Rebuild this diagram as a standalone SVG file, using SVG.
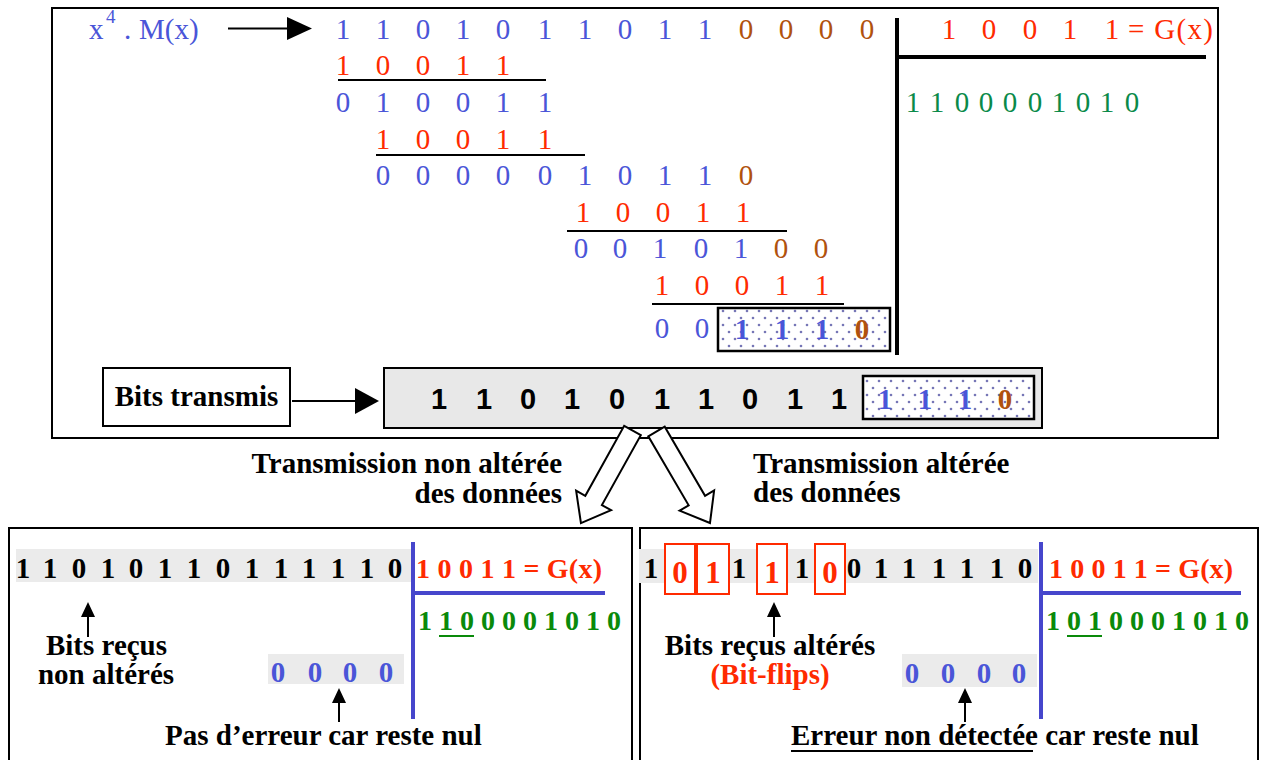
<svg xmlns="http://www.w3.org/2000/svg" width="1262" height="760" viewBox="0 0 1262 760">
<style>
.s{font-family:"Liberation Serif","Times New Roman",serif}
.d{font-family:"Liberation Serif","Times New Roman",serif;font-size:29px;text-anchor:middle}
.bd{font-family:"Liberation Serif","Times New Roman",serif;font-weight:bold}
.ar{font-family:"Liberation Sans",Arial,sans-serif;font-weight:bold;font-size:29px;text-anchor:middle}
.blu{fill:#4a55d8}
.red{fill:#ff2a00}
.brn{fill:#b0520e}
.grn{fill:#0a8a4a}
.g2{fill:#0a8a0a}
.blk{fill:#000}
.ln{stroke:#000;stroke-width:2;fill:none}
.thick{stroke:#000;stroke-width:4;fill:none}
.bl{stroke:#4646cc;stroke-width:4;fill:none}
.band{fill:#ebebeb}
.lbl{font-family:"Liberation Serif","Times New Roman",serif;font-weight:bold;font-size:29px}
.flip{fill:#fff;stroke:#ff2a00;stroke-width:2}
.fd{font-family:"Liberation Serif","Times New Roman",serif;font-weight:bold;font-size:31px;text-anchor:middle;fill:#ff2a00}
</style>
<defs>
<pattern id="dots" width="12" height="14" patternUnits="userSpaceOnUse">
<rect width="12" height="14" fill="#fff"/>
<circle cx="3" cy="3" r="1.3" fill="#7676b6"/>
<circle cx="9" cy="10" r="1.3" fill="#7676b6"/>
</pattern>
</defs>

<g id="division">
<rect x="52" y="8" width="1166" height="430" fill="#fff" stroke="#000" stroke-width="2"/>
<text class="s blu" x="89" y="39" font-size="29">x<tspan x="106" y="23" font-size="19">4</tspan><tspan x="124" y="39">.</tspan><tspan x="139" y="39">M(x)</tspan></text>
<text class="d blu" y="39" x="343 383 423 463 503 545 585 625 665 705">1101011011</text>
<text class="d brn" y="39" x="746 786 826 867">0000</text>
<text class="d red" y="75" x="343 383 423 463 503">10011</text>
<line class="ln" x1="338" y1="80" x2="546" y2="80"/>
<text class="d blu" y="112" x="343 383 423 463 503 545">010011</text>
<text class="d red" y="149" x="383 423 463 503 545">10011</text>
<line class="ln" x1="376" y1="155" x2="585" y2="155"/>
<text class="d blu" y="185" x="383 423 463 503 545 585 625 665 705">000001011</text>
<text class="d brn" y="185" x="746">0</text>
<text class="d red" y="222" x="583 623 663 703 743">10011</text>
<line class="ln" x1="567" y1="231" x2="787" y2="231"/>
<text class="d blu" y="258" x="581 620 660 701 741">00101</text>
<text class="d brn" y="258" x="781 821">00</text>
<text class="d red" y="295" x="662 702 742 782 822">10011</text>
<line class="ln" x1="652" y1="304" x2="844" y2="304"/>
<text class="d blu" y="338" x="662 702">00</text>
<rect x="718" y="308" width="172" height="43" fill="url(#dots)" stroke="#000" stroke-width="2.5"/>
<text class="d blu" y="339" font-weight="bold" font-size="30" x="742 782 822">111</text>
<text class="d brn" y="339" font-weight="bold" font-size="30" x="862">0</text>
<line class="thick" x1="897" y1="18" x2="897" y2="355"/>
<line class="thick" x1="897" y1="57" x2="1206" y2="57"/>
<text class="d red" y="39" x="949 989 1030 1070 1112">10011</text>
<text class="s red" x="1128" y="39" font-size="29" textLength="85" lengthAdjust="spacing">= G(x)</text>
<text class="d grn" y="112" x="913 937 962 986 1010 1035 1059 1083 1107 1132">1100001010</text>
</g>

<g id="bits-transmis">
<rect x="103" y="368" width="187" height="58" fill="#fff" stroke="#000" stroke-width="2"/>
<text class="lbl" x="196.5" y="406" text-anchor="middle" font-size="30">Bits transmis</text>
</g>

<g id="transmitted-frame">
<rect x="384" y="368" width="658" height="60" fill="#e8e8e8" stroke="#000" stroke-width="2"/>
<text class="ar" y="409" x="439 484 528 572 617 662 706 750 795 839">1101011011</text>
<rect x="863" y="376" width="171" height="43" fill="url(#dots)" stroke="#000" stroke-width="2.5"/>
<text class="d blu" y="409" font-weight="bold" font-size="29" x="885 925 965">111</text>
<text class="d brn" y="409" font-weight="bold" font-size="29" x="1005">0</text>
</g>

<g id="label-ok">
<text class="lbl" text-anchor="end" font-size="31"><tspan x="562" y="473">Transmission non altérée</tspan><tspan x="562" y="503">des données</tspan></text>
</g>
<g id="label-err">
<text class="lbl" font-size="31"><tspan x="753" y="473">Transmission altérée</tspan><tspan x="753" y="502">des données</tspan></text>
</g>

<g id="panel-ok">
<rect x="9" y="528" width="623" height="260" fill="#fff" stroke="#000" stroke-width="2"/>
<rect class="band" x="16" y="549" width="396" height="33"/>
<text class="d blk" y="578" font-weight="bold" font-size="28" x="23 50 79 108 136 165 194 223 252 281 309 338 367 395">11010110111110</text>
<line class="bl" x1="413" y1="542" x2="413" y2="719"/>
<line class="bl" x1="413" y1="593" x2="605" y2="593"/>
<text class="bd red" x="416" y="578" font-size="28" textLength="186" lengthAdjust="spacing">1 0 0 1 1 = G(x)</text>
<text class="bd g2" x="418" y="630" font-size="28">1 1 0 0 0 0 1 0 1 0</text>
<line stroke="#0a8a0a" stroke-width="2" x1="439" y1="636" x2="474" y2="636"/>
<text class="lbl" text-anchor="middle"><tspan x="106.5" y="655">Bits reçus</tspan><tspan x="106" y="684">non altérés</tspan></text>
<rect class="band" x="268" y="654" width="136" height="30"/>
<text class="d blu" y="682" font-weight="bold" font-size="28" x="278 315 350 386">0000</text>
<text class="lbl" x="165" y="745">Pas d’erreur car reste nul</text>
</g>

<g id="panel-err">
<rect x="640" y="528" width="618" height="260" fill="#fff" stroke="#000" stroke-width="2"/>
<rect class="band" x="639" y="549" width="399" height="34"/>
<rect class="flip" x="665" y="544" width="30" height="50"/>
<rect class="flip" x="697" y="544" width="32" height="50"/>
<rect class="flip" x="757" y="544" width="30" height="50"/>
<rect class="flip" x="815" y="544" width="30" height="50"/>
<text class="d blk" y="578" font-weight="bold" font-size="28" x="651">1</text>
<text class="d blk" y="578" font-weight="bold" font-size="28" x="739">1</text>
<text class="d blk" y="578" font-weight="bold" font-size="28" x="802">1</text>
<text class="d blk" y="578" font-weight="bold" font-size="28" x="854 881 909 939 967 997 1025">0111110</text>
<text class="fd" x="680" y="583">0</text>
<text class="fd" x="713" y="583">1</text>
<text class="fd" x="772" y="583">1</text>
<text class="fd" x="830" y="583">0</text>
<line class="bl" x1="1041" y1="542" x2="1041" y2="719"/>
<line class="bl" x1="1041" y1="593" x2="1241" y2="593"/>
<text class="bd red" x="1049" y="578" font-size="28" textLength="184" lengthAdjust="spacing">1 0 0 1 1 = G(x)</text>
<text class="bd g2" x="1046" y="630" font-size="28">1 0 1 0 0 0 1 0 1 0</text>
<line stroke="#0a8a0a" stroke-width="2" x1="1067" y1="636" x2="1102" y2="636"/>
<text class="lbl" text-anchor="middle"><tspan x="770" y="655">Bits reçus altérés</tspan><tspan class="red" x="770" y="684">(Bit-flips)</tspan></text>
<rect class="band" x="902" y="654" width="135" height="33"/>
<text class="d blu" y="683" font-weight="bold" font-size="28" x="912 948 984 1019">0000</text>
<text class="lbl" x="791" y="745">Erreur non détectée car reste nul</text>
<line class="ln" x1="791" y1="751" x2="1033" y2="751"/>
</g>

<g id="connectors">
<line class="ln" x1="228" y1="28.5" x2="292" y2="28.5"/>
<polygon points="287,17 312,28.5 287,40" fill="#000"/>
<line class="ln" x1="292" y1="401" x2="360" y2="401"/>
<polygon points="355,388 379,401 355,414" fill="#000"/>
<g transform="translate(632.5,430.5) rotate(29.1)">
<path d="M-9.5,0 L9.5,0 L9.5,80 L20,80 L0,106 L-20,80 L-9.5,80 Z" fill="#fff" stroke="#000" stroke-width="2" stroke-linejoin="miter"/>
</g>
<g transform="translate(656.5,431.5) rotate(-30.3)">
<path d="M-9.5,0 L9.5,0 L9.5,80 L20,80 L0,106 L-20,80 L-9.5,80 Z" fill="#fff" stroke="#000" stroke-width="2" stroke-linejoin="miter"/>
</g>
<line class="ln" x1="88" y1="637" x2="88" y2="614"/>
<polygon points="81,617 88,602 95,617" fill="#000"/>
<line class="ln" x1="339" y1="722" x2="339" y2="700"/>
<polygon points="332,703 339,688 346,703" fill="#000"/>
<line class="ln" x1="774" y1="637" x2="774" y2="614"/>
<polygon points="767,617 774,602 781,617" fill="#000"/>
<line class="ln" x1="965" y1="722" x2="965" y2="700"/>
<polygon points="958,703 965,688 972,703" fill="#000"/>
</g>
</svg>
